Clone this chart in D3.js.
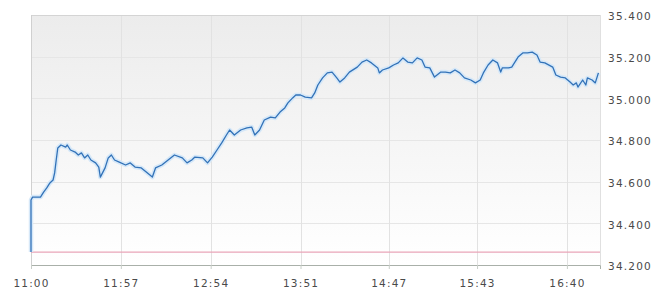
<!DOCTYPE html>
<html>
<head>
<meta charset="utf-8">
<script src="https://cdn.jsdelivr.net/npm/d3@7"></script>
<style>
  body { margin: 0; background: #fff; }
  svg text { font-family: "DejaVu Sans", Verdana, sans-serif; font-size: 10.5px; fill: #4a4a4a; letter-spacing: 1.2px; }
</style>
</head>
<body>
<div id="chart"></div>
<script>
// intraday prices
const times = ["11:00","11:00","11:01","11:06","11:08","11:10","11:12","11:14","11:15","11:16","11:17","11:19","11:22","11:23","11:25","11:28","11:30","11:32","11:34","11:36","11:38","11:41","11:43","11:44","11:47","11:49","11:51","11:53","11:56","12:00","12:03","12:06","12:10","12:17","12:19","12:23","12:27","12:31","12:36","12:39","12:42","12:44","12:49","12:52","12:55","12:58","13:01","13:04","13:06","13:09","13:13","13:17","13:20","13:22","13:25","13:28","13:32","13:35","13:38","13:41","13:43","13:46","13:48","13:51","13:54","13:58","14:00","14:02","14:05","14:08","14:11","14:14","14:16","14:19","14:22","14:27","14:30","14:33","14:36","14:40","14:41","14:43","14:47","14:50","14:53","14:56","14:59","15:02","15:05","15:08","15:10","15:13","15:16","15:20","15:23","15:26","15:29","15:32","15:35","15:39","15:42","15:45","15:47","15:50","15:53","15:56","15:58","15:59","16:03","16:05","16:07","16:09","16:12","16:15","16:18","16:21","16:23","16:26","16:31","16:33","16:36","16:39","16:42","16:44","16:46","16:47","16:50","16:52","16:53","16:56","16:58","17:00"];
const prices = [34.262,34.512,34.526,34.526,34.550,34.570,34.594,34.608,34.642,34.704,34.762,34.776,34.766,34.776,34.752,34.742,34.728,34.738,34.714,34.728,34.704,34.690,34.670,34.622,34.666,34.714,34.728,34.704,34.694,34.680,34.690,34.670,34.666,34.622,34.666,34.680,34.704,34.728,34.714,34.690,34.704,34.718,34.714,34.690,34.718,34.752,34.786,34.824,34.848,34.824,34.848,34.858,34.862,34.824,34.848,34.896,34.910,34.906,34.934,34.954,34.978,35.002,35.016,35.016,35.006,35.002,35.026,35.064,35.098,35.122,35.126,35.098,35.078,35.098,35.126,35.150,35.174,35.184,35.170,35.146,35.122,35.136,35.146,35.160,35.170,35.194,35.174,35.170,35.194,35.184,35.150,35.146,35.102,35.126,35.126,35.122,35.136,35.122,35.098,35.088,35.074,35.088,35.122,35.160,35.184,35.170,35.126,35.146,35.146,35.150,35.174,35.198,35.218,35.218,35.222,35.208,35.174,35.170,35.150,35.112,35.102,35.098,35.078,35.064,35.074,35.054,35.088,35.064,35.098,35.088,35.074,35.122];
const prevClose = 34.262;
const xTicks = ["11:00","11:57","12:54","13:51","14:47","15:43","16:40"];
const yTicks = [34.2, 34.4, 34.6, 34.8, 35.0, 35.2, 35.4];

const width = 660, height = 292;
const margin = { top: 15, right: 60, bottom: 27, left: 31 };
const plotW = width - margin.left - margin.right;
const plotH = height - margin.top - margin.bottom;

const parseTime = d3.timeParse("%H:%M");
const data = times.map((t, i) => ({ t: parseTime(t), v: prices[i] }));

const svg = d3.select("#chart").append("svg")
    .attr("width", width)
    .attr("height", height);

const grad = svg.append("defs").append("linearGradient")
    .attr("id", "bg").attr("x1", 0).attr("y1", 0).attr("x2", 0).attr("y2", 1);
grad.append("stop").attr("offset", "0%").attr("stop-color", "#ececec");
grad.append("stop").attr("offset", "100%").attr("stop-color", "#ffffff");

const g = svg.append("g").attr("transform", `translate(${margin.left},${margin.top})`);

const x = d3.scaleTime()
    .domain([parseTime("11:00"), parseTime("17:01")])
    .range([0, plotW]);
const y = d3.scaleLinear()
    .domain([34.2, 35.4])
    .range([plotH, 0]);

// background
g.append("rect")
    .attr("width", plotW).attr("height", plotH)
    .attr("fill", "url(#bg)");

// grid
g.selectAll(".hgrid").data(yTicks).enter().append("line")
    .attr("x1", 0).attr("x2", plotW)
    .attr("y1", d => Math.round(y(d)) + 0.5).attr("y2", d => Math.round(y(d)) + 0.5)
    .attr("stroke", "#e6e6e6");
g.selectAll(".vgrid").data(xTicks).enter().append("line")
    .attr("x1", d => Math.round(x(parseTime(d))) + 0.5).attr("x2", d => Math.round(x(parseTime(d))) + 0.5)
    .attr("y1", 0).attr("y2", plotH)
    .attr("stroke", "#e2e2e2");

// frame
g.append("line").attr("x1", 0).attr("x2", plotW).attr("y1", 0.5).attr("y2", 0.5).attr("stroke", "#d4d4d4");
g.append("line").attr("x1", 0.5).attr("x2", 0.5).attr("y1", 0).attr("y2", plotH).attr("stroke", "#d0d0d0");
g.append("line").attr("x1", plotW + 0.5).attr("x2", plotW + 0.5).attr("y1", 0).attr("y2", plotH).attr("stroke", "#e0e0e0");

// previous close
g.append("line")
    .attr("x1", 0).attr("x2", plotW)
    .attr("y1", y(prevClose)).attr("y2", y(prevClose))
    .attr("stroke", "#e9a5b8").attr("stroke-width", 1.2);

// price line with soft halo
const line = d3.line().x(d => x(d.t)).y(d => y(d.v));
g.append("path").datum(data)
    .attr("d", line).attr("fill", "none")
    .attr("stroke", "#d6e8f8").attr("stroke-width", 4.5).attr("stroke-linejoin", "round");
g.append("path").datum(data)
    .attr("d", line).attr("fill", "none")
    .attr("stroke", "#3272b8").attr("stroke-width", 1.3).attr("stroke-linejoin", "round");

// x axis
const xAxis = g.append("g")
    .attr("transform", `translate(0,${plotH})`)
    .call(d3.axisBottom(x)
        .tickValues(xTicks.map(parseTime))
        .tickFormat(d3.timeFormat("%H:%M"))
        .tickSize(4).tickPadding(11));
xAxis.select(".domain").attr("stroke", "#a9b0a9");
xAxis.selectAll(".tick line").attr("stroke", "#c8cec8");
xAxis.selectAll("text").attr("fill", "#4a4a4a");

// y axis on the right
const yAxis = g.append("g")
    .attr("transform", `translate(${plotW},0)`)
    .call(d3.axisRight(y)
        .tickValues(yTicks)
        .tickFormat(d3.format(".3f"))
        .tickSize(0).tickPadding(8));
yAxis.select(".domain").remove();
yAxis.selectAll("text").attr("fill", "#4a4a4a").attr("dy", "0.45em");
</script>
</body>
</html>
